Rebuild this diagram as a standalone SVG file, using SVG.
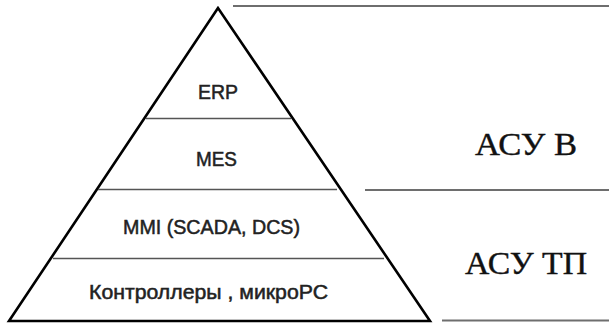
<svg xmlns="http://www.w3.org/2000/svg" width="609" height="324" viewBox="0 0 609 324">
  <style>
    .edge { fill: none; stroke: #000; stroke-width: 2.6; stroke-linejoin: miter; }
    .tier { stroke: #555; stroke-width: 1.6; }
    .rule { stroke: #6e6e6e; stroke-width: 2.2; }
    .lvl { font-family: "Liberation Sans", Arial, sans-serif; font-size: 19.5px; fill: #222; stroke: #222; stroke-width: 0.5; text-anchor: middle; }
    .grp { font-family: "Liberation Serif", "Times New Roman", serif; font-size: 31px; fill: #111; stroke: #111; stroke-width: 0.4; }
  </style>
  <rect width="609" height="324" fill="#fff"/>

  <!-- pyramid outline and tier dividers -->
  <g id="pyramid">
    <polygon class="edge" points="218,8 9,321 430,321"/>
    <line class="tier" x1="146" y1="118.5" x2="291" y2="118.5"/>
    <line class="tier" x1="98" y1="189.5" x2="337" y2="189.5"/>
    <line class="tier" x1="53" y1="258.5" x2="384" y2="258.5"/>
  </g>

  <!-- level labels -->
  <g id="erp"><text class="lvl" x="218" y="99" textLength="40" lengthAdjust="spacingAndGlyphs">ERP</text></g>
  <g id="mes"><text class="lvl" x="216.5" y="166" textLength="41" lengthAdjust="spacingAndGlyphs">MES</text></g>
  <g id="mmi"><text class="lvl" x="211.5" y="234" textLength="177" lengthAdjust="spacingAndGlyphs">MMI (SCADA, DCS)</text></g>
  <g id="plc"><text class="lvl" x="208.5" y="299" textLength="239" lengthAdjust="spacingAndGlyphs">Контроллеры , микроРС</text></g>

  <!-- right-hand group rules -->
  <g id="connectors">
    <line class="rule" x1="233" y1="6" x2="609" y2="6"/>
    <line class="rule" x1="365" y1="190" x2="609" y2="190"/>
    <line class="rule" x1="442" y1="320.5" x2="609" y2="320.5"/>
  </g>

  <!-- group labels -->
  <g id="asu-b"><text class="grp" x="475" y="155" textLength="102" lengthAdjust="spacingAndGlyphs">АСУ В</text></g>
  <g id="asu-tp"><text class="grp" x="465" y="274" textLength="122" lengthAdjust="spacingAndGlyphs">АСУ ТП</text></g>
</svg>
